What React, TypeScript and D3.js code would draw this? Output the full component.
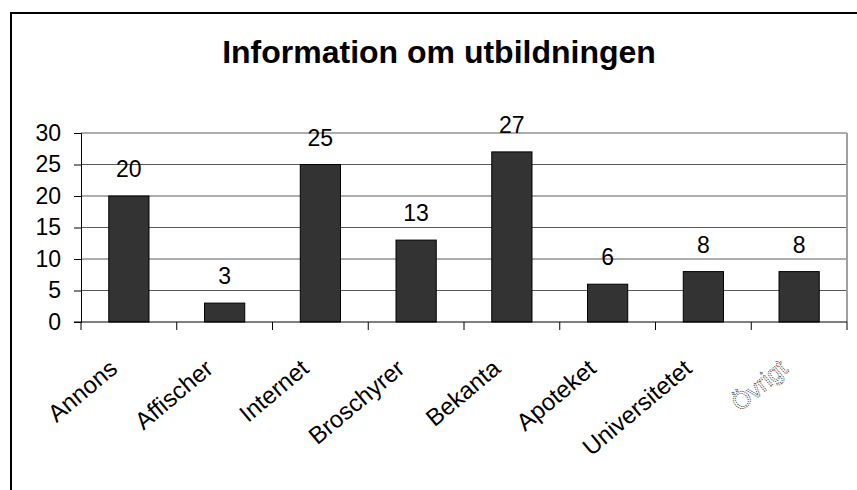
import React, { useEffect, useRef } from "react";
import * as d3 from "d3";

const title = "Information om utbildningen";
const categories = ["Annons", "Affischer", "Internet", "Broschyrer", "Bekanta", "Apoteket", "Universitetet", "Övrigt"];
const counts = [20, 3, 25, 13, 27, 6, 8, 8];
const yTicks = [0, 5, 10, 15, 20, 25, 30];

function App() {
  const chartRef = useRef<SVGSVGElement>(null);

  function drawChart() {
    const width = 857,
      height = 490;
    const plot = { left: 81, right: 847, top: 133, bottom: 322 };
    const font = "Liberation Sans, Arial, sans-serif";

    const svg = d3.select(chartRef.current);
    svg.selectAll("*").remove();

    svg.append("rect").attr("width", width).attr("height", height).attr("fill", "#fff");

    // outer frame (only top + left visible)
    svg
      .append("path")
      .attr("d", `M11,${height} V13 H${width}`)
      .attr("fill", "none")
      .attr("stroke", "#000")
      .attr("stroke-width", 2);

    svg
      .append("text")
      .attr("x", 439)
      .attr("y", 63)
      .attr("text-anchor", "middle")
      .style("font-family", font)
      .style("font-size", "32px")
      .style("font-weight", "bold")
      .text(title);

    const x = d3.scaleBand().domain(categories).range([plot.left, plot.right]).paddingInner(0.58).paddingOuter(0.29);
    const y = d3.scaleLinear().domain([0, 30]).range([plot.bottom, plot.top]);

    // gridlines
    svg
      .append("g")
      .selectAll("line")
      .data(yTicks.filter((t) => t > 0))
      .enter()
      .append("line")
      .attr("x1", plot.left)
      .attr("x2", plot.right)
      .attr("y1", (d) => y(d))
      .attr("y2", (d) => y(d))
      .attr("stroke", "#5a5a5a")
      .attr("stroke-width", 1);

    // right border of plot area
    svg
      .append("line")
      .attr("x1", plot.right)
      .attr("x2", plot.right)
      .attr("y1", plot.top)
      .attr("y2", plot.bottom)
      .attr("stroke", "#a0a0a0")
      .attr("stroke-width", 2);

    // bars
    svg
      .append("g")
      .selectAll("rect")
      .data(counts)
      .enter()
      .append("rect")
      .attr("x", (d, i) => x(categories[i])!)
      .attr("y", (d) => y(d))
      .attr("width", x.bandwidth())
      .attr("height", (d) => plot.bottom - y(d))
      .attr("fill", "#333333")
      .attr("stroke", "#000")
      .attr("stroke-width", 1);

    // value labels
    svg
      .append("g")
      .selectAll("text")
      .data(counts)
      .enter()
      .append("text")
      .attr("x", (d, i) => x(categories[i])! + x.bandwidth() / 2)
      .attr("y", (d) => y(d) - 19)
      .attr("text-anchor", "middle")
      .style("font-family", font)
      .style("font-size", "23px")
      .text((d) => d);

    // y axis
    const yAxis = d3.axisLeft(y).tickValues(yTicks).tickSize(7).tickPadding(13);
    const gy = svg.append("g").attr("transform", `translate(${plot.left},0)`).call(yAxis);
    gy.select(".domain").attr("stroke", "#000");
    gy.selectAll(".tick line").attr("stroke", "#000");
    gy.selectAll("text").attr("fill", "#000").style("font-family", font).style("font-size", "23px");

    // x axis baseline and ticks between categories
    const step = x.step();
    const tickXs = d3.range(categories.length + 1).map((i) => plot.left + i * step);
    svg
      .append("line")
      .attr("x1", plot.left - 7)
      .attr("x2", plot.right)
      .attr("y1", plot.bottom)
      .attr("y2", plot.bottom)
      .attr("stroke", "#000");
    svg
      .append("g")
      .selectAll("line")
      .data(tickXs)
      .enter()
      .append("line")
      .attr("x1", (d) => d)
      .attr("x2", (d) => d)
      .attr("y1", plot.bottom)
      .attr("y2", plot.bottom + 8)
      .attr("stroke", "#000");

    // category labels, rotated
    const last = categories.length - 1;
    svg
      .append("g")
      .selectAll("text")
      .data(categories)
      .enter()
      .append("text")
      .attr("transform", (d) => `translate(${x(d)! + x.bandwidth() / 2 - 10},${plot.bottom + 49}) rotate(-40)`)
      .attr("text-anchor", "end")
      .style("font-family", font)
      .style("font-size", "24px")
      .attr("fill", (d, i) => (i === last ? "#fff" : "#000"))
      .attr("stroke", (d, i) => (i === last ? "#444" : "none"))
      .attr("stroke-width", (d, i) => (i === last ? 0.9 : 0))
      .attr("stroke-dasharray", (d, i) => (i === last ? "1.2,1" : null))
      .text((d) => d);
  }

  useEffect(() => {
    drawChart();
  }, []);

  return (
    <div style={{ position: "absolute", left: 0, top: 0 }}>
      <svg ref={chartRef} width={857} height={490} style={{ display: "block" }}></svg>
    </div>
  );
}

export default App;
